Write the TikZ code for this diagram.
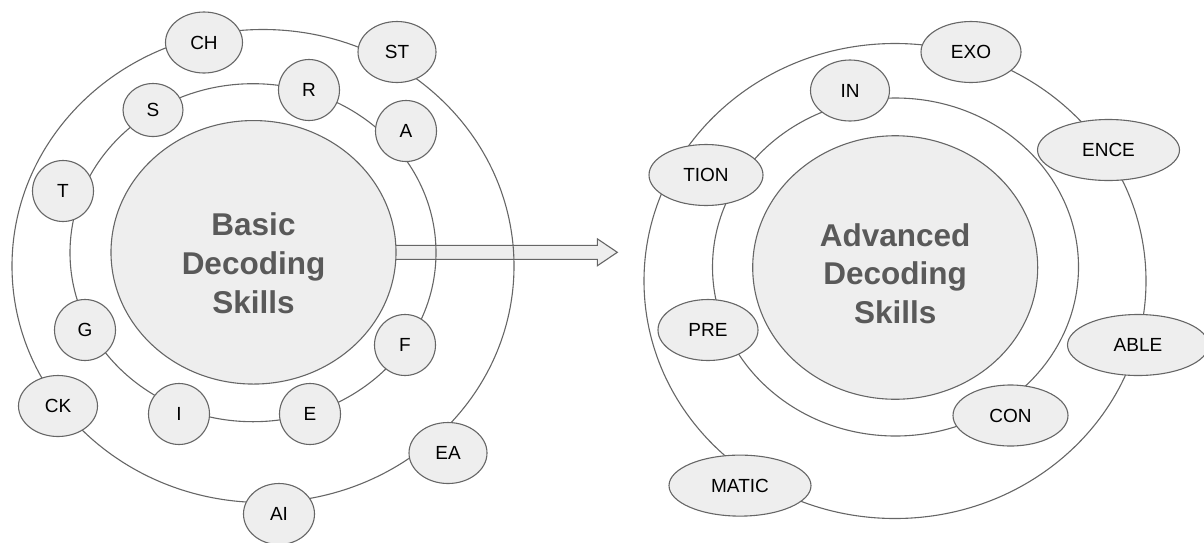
\documentclass[tikz,border=0pt]{standalone}
\usepackage{fontspec}
\setmainfont{Liberation Sans}
\usepackage{tikz}
\usetikzlibrary{shapes,backgrounds}
\definecolor{dsfill}{RGB}{238,238,238}
\definecolor{dsline}{RGB}{102,102,102}
\definecolor{dstext}{RGB}{89,89,89}
\tikzstyle{ring} = [draw=dsline, line width=1.1pt, ellipse, inner sep=0pt, outer sep=0pt]
\tikzstyle{core} = [draw=dsline, fill=dsfill, line width=1.1pt, ellipse, inner sep=0pt, outer sep=0pt, minimum width=285pt, minimum height=263.5pt]
\tikzstyle{corelabel} = [text=dstext, align=center, font=\bfseries\fontsize{31.5}{38.8}\selectfont]
\tikzstyle{unit} = [draw=dsline, fill=dsfill, line width=1.1pt, ellipse, inner sep=0pt, outer sep=0pt, minimum height=61pt, font=\fontsize{19}{22}\selectfont]
\tikzstyle{bigarrow} = [draw=dsline, fill=dsfill, line width=1.1pt, line join=miter]

\begin{document}
\begin{tikzpicture}[x=1pt,y=-1pt]
\useasboundingbox (0,0) rectangle (1204,542);

% Basic rings
\node[ring, minimum width=502pt, minimum height=473pt] (basicouter) at (263,266) {};
\node[ring, minimum width=366pt, minimum height=338pt] (basicmiddle) at (253,252.7) {};
\node[core] (basiccore) at (253.5,252.3) {};
\node[corelabel] (basiclabel) at (253.5,263) {Basic\\Decoding\\Skills};

% Arrow
\coordinate (arrowtip) at (617.3,252.3);
\begin{scope}[on background layer]
\draw[bigarrow] ([xshift=-6pt,yshift=7pt]basiccore.east) -- ([xshift=-20pt,yshift=7pt]arrowtip)
  -- ([xshift=-20pt,yshift=13.5pt]arrowtip) -- (arrowtip) -- ([xshift=-20pt,yshift=-13.5pt]arrowtip)
  -- ([xshift=-20pt,yshift=-7pt]arrowtip) -- ([xshift=-6pt,yshift=-7pt]basiccore.east) -- cycle;
\end{scope}

% Basic units
\node[unit, minimum width=77pt] (ch) at (204,42.5) {CH};
\node[unit, minimum width=78pt] (st) at (397,52) {ST};
\node[unit, minimum width=61pt] (r) at (309,90) {R};
\node[unit, minimum width=60pt, minimum height=53pt] (s) at (153,110) {S};
\node[unit, minimum width=61pt] (a) at (406,131) {A};
\node[unit, minimum width=61pt] (t) at (63,191) {T};
\node[unit, minimum width=61pt] (g) at (85,330) {G};
\node[unit, minimum width=61pt] (f) at (405,345) {F};
\node[unit, minimum width=79pt] (ck) at (58,406) {CK};
\node[unit, minimum width=61pt] (i) at (179,414) {I};
\node[unit, minimum width=61pt] (e) at (310,414) {E};
\node[unit, minimum width=78pt] (ea) at (448,453) {EA};
\node[unit, minimum width=71pt] (ai) at (279,514) {AI};

% Advanced rings
\node[ring, minimum width=502pt, minimum height=475pt] (advouter) at (895,281) {};
\node[ring, minimum width=366pt, minimum height=338pt] (advmiddle) at (895.5,267) {};
\node[core] (advcore) at (895.2,267.5) {};
\node[corelabel] (advlabel) at (895.2,273.7) {Advanced\\Decoding\\Skills};

% Advanced units
\node[unit, minimum width=100pt] (exo) at (971,52) {EXO};
\node[unit, minimum width=79pt] (in) at (850,90.5) {IN};
\node[unit, minimum width=142pt] (ence) at (1108.5,150) {ENCE};
\node[unit, minimum width=114pt] (tion) at (706,175) {TION};
\node[unit, minimum width=100pt] (pre) at (708,330) {PRE};
\node[unit, minimum width=141pt] (able) at (1138,345) {ABLE};
\node[unit, minimum width=115pt] (con) at (1010.5,415.5) {CON};
\node[unit, minimum width=142pt] (matic) at (740,485.6) {MATIC};
\end{tikzpicture}
\end{document}
